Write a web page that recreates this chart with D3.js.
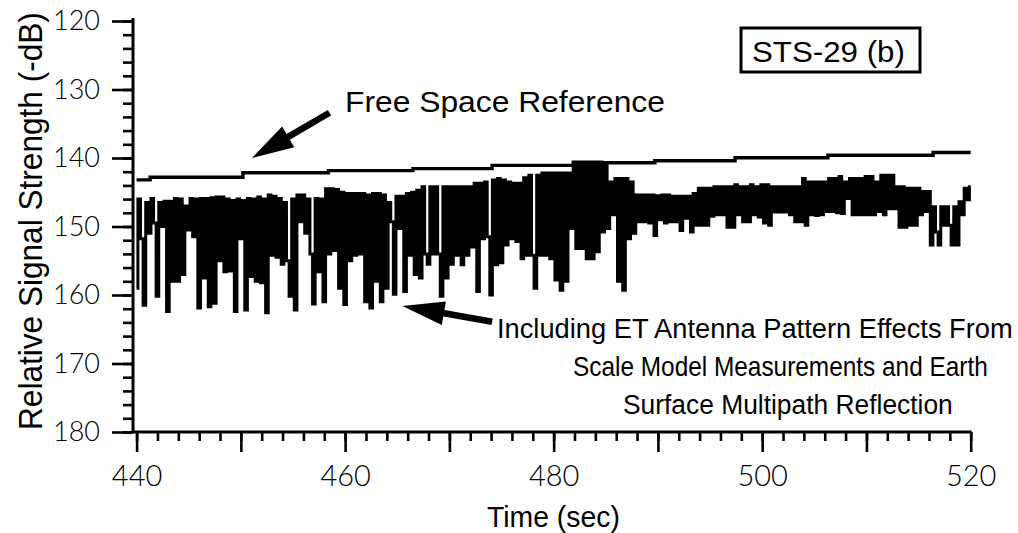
<!DOCTYPE html>
<html>
<head>
<meta charset="utf-8">
<script src="https://cdn.jsdelivr.net/npm/d3@7"></script>
<style>
body { margin: 0; background: #fff; }
</style>
</head>
<body>
<div id="chart"></div>
<script>
// axis labels
const xTicks = [440, 460, 480, 500, 520];
const yTicks = [120, 130, 140, 150, 160, 170, 180];

// free space reference (step line), time in sec, level in -dB
const refTime = [440, 441.3, 450.2, 458.4, 466.5, 474.1, 481.9, 489.7, 497.4, 506.3, 516.4, 520];
const refLevel = [143.2, 142.8, 142.15, 141.85, 141.55, 141.07, 140.7, 140.4, 139.96, 139.6, 139.2, 139.2];

const sigStart = 440;
const sigStep = 0.25;
const sigLevel = [
  159, 146, 151.8, 161.5, 146.5, 151, 145.9, 149.5, 160.2, 146.5,
  150, 146.3, 162.4, 146.3, 158, 145.9, 158, 146, 157, 147,
  150.5, 145.9, 151.5, 146, 161.9, 145.9, 157.5, 145.9, 161.7, 145.8,
  161.2, 145.7, 155, 145.7, 156.6, 146, 156.5, 146.2, 162.4, 146,
  151.8, 146.2, 162.2, 145.9, 157.3, 146, 158, 145.7, 158.2, 146,
  162.6, 145.4, 154.2, 145.6, 154.5, 145.9, 155.5, 146.5, 155, 160.2,
  146, 162.2, 145.4, 149.3, 145.4,
  151, 146, 154, 161.3, 145.9, 156.6, 146, 161, 144.5, 154,
  144.5, 153.5, 144.6, 159, 145, 161.4, 145.2, 155, 145.2, 154.2,
  145.2, 154, 145.2, 161, 145.4, 161.9, 145.2, 158, 145.2, 161,
  145.4, 159, 146.5, 149.3, 159.9, 145.6, 150.3, 145.6, 159.5, 145.2,
  154.2, 145, 157, 144.7, 157.5, 144.2, 154, 155.5, 144.2, 154,
  144.2, 154, 160.2, 144.2, 157.5, 144.2, 155.5, 144.2, 154.2, 144.2,
  155.6, 144.2, 154.2, 144.2,
  153, 143.7, 159.5, 143.7, 151.8, 143.5, 151.5, 160, 143.2, 155.6,
  143, 155.3, 143.2, 152.7, 143.5, 151.8, 143.7, 152.2, 143.7, 154.7,
  142.9, 154.2, 142.5, 154.2, 159, 142.5, 154.2, 142.2, 154.2, 142.2,
  154.7, 142.2, 157.8, 142.2, 159.3, 142.2, 158, 142.2, 150.3, 140.6,
  153.2, 140.6, 153.2, 140.6, 154.7, 140.6, 154.7, 140.6, 153.7, 140.6,
  150.8, 141, 150.3, 143.5, 148.3, 143, 158, 143, 159.3, 143,
  151.8, 143.5, 151, 145.4,
  149.3, 145.4, 149.3, 145.4, 149.5, 145.4, 151.3, 145.5, 149, 145.4,
  149.5, 145.4, 149.3, 145.6, 149.3, 145.6, 150.6, 145.6, 148.8, 145.6,
  150.8, 145.2, 149.8, 144.4, 149.8, 144.4, 149.8, 144.4, 148.5, 144.2,
  148.3, 144.2, 148.3, 144.2, 150.1, 144.2, 150.1, 143.9, 148.3, 144.2,
  149.3, 144.2, 149.3, 143.9, 148.3, 144.2, 148.6, 143.9, 149.5, 143.9,
  149.8, 144.2, 147.9, 144.2, 147.9, 144.2, 147.9, 144.2, 148.3, 144.2,
  149.3, 144.2, 149.3, 143, 149.8, 143.5, 148.3, 143.5,
  148.4, 143.5, 148.3, 143.5, 147.8, 143, 147.8, 143, 148, 142.7,
  148.1, 143.5, 145.9, 143, 148.3, 143, 148.3, 143, 148.3, 142.7,
  148.3, 142.7, 148.3, 143.5, 147.8, 142.5, 148.3, 142.5, 147.4, 142.5,
  147.4, 144.2, 150.1, 144.2, 150.1, 144.4, 149.8, 144.4, 149.8, 144.4,
  148.3, 144.9, 147.8, 144.9, 152.7, 147.1, 150.8, 152.7, 147.1, 149.8,
  147.1, 149.8, 152.7, 147.1, 152.7, 146.4, 148.3, 144.4, 146.1, 144.2
];

// text
const caseLabel = "STS-29 (b)";
const refLabel = "Free Space Reference";
const sigLabel = ["Including ET Antenna Pattern Effects From",
                  "Scale Model Measurements and Earth",
                  "Surface Multipath Reflection"];
// arrows in data units: [tailTime, tailDb, tipTime, tipDb]
const arrows = [[458.5, 133.4, 451.06, 140.0], [474.1, 163.9, 465.5, 161.6]];

const W = 1018, H = 533;
const helv = "'Liberation Sans', Arial, Helvetica, sans-serif";
const thin = "Lato, Roboto, 'Open Sans', sans-serif";

// squeeze a text horizontally so its width is w (text drawn at 0,0 first)
function fitText(t, x, y, w, rot)
{
    let natural = t.node().getComputedTextLength();
    let k = w / natural;
    t.attr("transform", "translate(" + x + "," + y + ")" + (rot ? " rotate(" + rot + ")" : "") + " scale(" + k + ",1)");
}

function drawChart()
{
    let svg = d3.select("#chart").append("svg")
        .attr("width", W)
        .attr("height", H);

    let x = d3.scaleLinear().domain([440, 520]).range([136.6, 970.7]);
    let y = d3.scaleLinear().domain([120, 180]).range([21, 432]);

    // minor ticks y
    let gyMinor = svg.append("g").attr("transform", "translate(133,0)")
        .call(d3.axisLeft(y).tickValues(d3.range(120, 181, 2)).tickSize(10).tickFormat(""));
    // major ticks y
    let gy = svg.append("g").attr("transform", "translate(133,0)")
        .call(d3.axisLeft(y).tickValues(yTicks).tickSize(21).tickPadding(12));
    let gxMinor = svg.append("g").attr("transform", "translate(0,432)")
        .call(d3.axisBottom(x).tickValues(d3.range(440, 521, 2)).tickSize(9).tickFormat(""));
    let gx = svg.append("g").attr("transform", "translate(0,432)")
        .call(d3.axisBottom(x).tickValues(d3.range(440, 521, 10)).tickSize(20).tickPadding(13)
            .tickFormat(d => xTicks.includes(d) ? d : ""));

    [gyMinor, gy, gxMinor, gx].forEach(g => {
        g.select(".domain").remove();
        g.selectAll("line").attr("stroke", "#000").attr("stroke-width", 2.6);
        g.selectAll("text")
            .attr("fill", "#000")
            .style("font-family", thin)
            .style("font-weight", 300)
            .style("font-size", "29px");
    });
    gy.selectAll("text").style("font-size", "27px");

    // axis lines
    svg.append("line")
        .attr("x1", 133).attr("x2", 133).attr("y1", y(120) - 3).attr("y2", y(180))
        .attr("stroke", "#000").attr("stroke-width", 3);
    svg.append("line")
        .attr("x1", 133).attr("x2", x(520) + 1).attr("y1", y(180)).attr("y2", y(180))
        .attr("stroke", "#000").attr("stroke-width", 3);

    // signal
    let sigLine = d3.line()
        .x((d, i) => x(sigStart + i * sigStep))
        .y(d => y(d))
        .curve(d3.curveStep);
    svg.append("path")
        .datum(sigLevel)
        .attr("fill", "none")
        .attr("stroke", "#000")
        .attr("stroke-width", 3)
        .attr("d", sigLine);

    // free space reference
    let refLine = d3.line()
        .x((d, i) => x(refTime[i]))
        .y(d => y(d))
        .curve(d3.curveStepAfter);
    svg.append("path")
        .datum(refLevel)
        .attr("fill", "none")
        .attr("stroke", "#000")
        .attr("stroke-width", 3.4)
        .attr("d", refLine);

    // arrows
    arrows.forEach(a => {
        let x0 = x(a[0]), y0 = y(a[1]), x1 = x(a[2]), y1 = y(a[3]);
        let len = Math.hypot(x1 - x0, y1 - y0);
        let ux = (x1 - x0) / len, uy = (y1 - y0) / len;
        let hl = 42, hw = 12;
        let bx = x1 - ux * hl, by = y1 - uy * hl;
        svg.append("line")
            .attr("x1", x0).attr("y1", y0).attr("x2", bx + ux * 4).attr("y2", by + uy * 4)
            .attr("stroke", "#000").attr("stroke-width", 6.5);
        svg.append("path")
            .attr("d", d3.line()([[x1, y1], [bx - uy * hw, by + ux * hw], [bx + uy * hw, by - ux * hw]]) + "Z")
            .attr("fill", "#000");
    });

    // labels
    let t1 = svg.append("text")
        .style("font-family", helv).style("font-size", "30px")
        .text(refLabel);
    fitText(t1, 345, 112, 320);

    svg.append("rect")
        .attr("x", 741).attr("y", 28).attr("width", 179).attr("height", 44)
        .attr("fill", "none").attr("stroke", "#000").attr("stroke-width", 3);
    let t2 = svg.append("text")
        .style("font-family", helv).style("font-size", "30px")
        .text(caseLabel);
    fitText(t2, 752, 62, 153);

    let sigX = [497, 573, 623], sigLen = [516, 415, 330], sigY = [338, 376, 414];
    sigLabel.forEach((s, i) => {
        let t = svg.append("text")
            .style("font-family", helv).style("font-size", "28px")
            .text(s);
        fitText(t, sigX[i], sigY[i], sigLen[i]);
    });

    let t3 = svg.append("text")
        .style("font-family", helv).style("font-size", "30px")
        .text("Time (sec)");
    fitText(t3, 487, 527, 133);

    let t4 = svg.append("text")
        .style("font-family", helv).style("font-size", "33px")
        .text("Relative Signal Strength (-dB)");
    fitText(t4, 42, 430, 418, -90);
}

drawChart();
</script>
</body>
</html>
